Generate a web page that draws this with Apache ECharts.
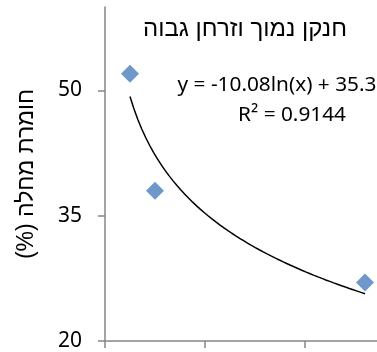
<!DOCTYPE html>
<html><head><meta charset="utf-8">
<script src="https://cdn.jsdelivr.net/npm/echarts@6/dist/echarts.min.js"></script>
<style>html,body{margin:0;padding:0;background:#fff}#c{width:377px;height:352px}</style>
</head><body><div id="c"></div>
<script>
const xValues = [0.25, 0.5, 2.6];
const yValues = [52, 38, 27];
const yTicks = [20, 35, 50];
const xTicks = [0, 1, 2];
const trendA = -10.08, trendB = 35.3;
const titleText = 'חנקן נמוך וזרחן גבוה';
const yName = 'חומרת מחלה (%)';
const eqText = 'y = -10.08ln(x) + 35.3';
const r2Text = 'R² = 0.9144';

const pts = xValues.map((x, i) => [x, yValues[i]]);
const trend = [];
const n = 60;
const x0 = Math.min(...xValues), x1 = Math.max(...xValues);
for (let i = 0; i <= n; i++) {
  const x = x0 + (x1 - x0) * i / n;
  trend.push([x, trendA * Math.log(x) + trendB]);
}
const font = '"Noto Sans", sans-serif';
const heb = '"Liberation Sans", sans-serif';
const rtl = s => '\u202B' + s + '\u202C';
const chart = echarts.init(document.getElementById('c'));
chart.setOption({
  animation: false,
  textStyle: { fontFamily: font },
  title: [
    { text: rtl(titleText), left: 240, top: 12, textAlign: 'center',
      textStyle: { fontSize: 24, fontWeight: 'normal', color: '#000', fontFamily: heb } },
    { text: eqText, left: 272, top: 70, textAlign: 'center',
      textStyle: { fontSize: 20.8, fontWeight: 'normal', color: '#000', fontFamily: font } },
    { text: r2Text, left: 287, top: 100, textAlign: 'center',
      textStyle: { fontSize: 20.8, fontWeight: 'normal', color: '#000', fontFamily: font } }
  ],
  grid: { left: 105, right: 0, top: 7, bottom: 11, containLabel: false },
  xAxis: {
    type: 'value', min: 0, max: 2.72, interval: 1,
    axisLine: { show: true, lineStyle: { color: '#868686', width: 1.5 } },
    axisTick: { show: true, length: 7, lineStyle: { color: '#868686', width: 1.5 }, customValues: xTicks },
    axisLabel: { show: false },
    splitLine: { show: false }
  },
  yAxis: {
    type: 'value', min: 20, max: 60, interval: 15,
    name: rtl(yName), nameLocation: 'middle', nameGap: 67, nameRotate: 90,
    nameTextStyle: { fontSize: 23, color: '#000', fontFamily: heb },
    axisLine: { show: true, onZero: false, lineStyle: { color: '#868686', width: 1.5 } },
    axisTick: { show: true, length: 7, lineStyle: { color: '#868686', width: 1.5 }, customValues: yTicks },
    axisLabel: { fontSize: 21, color: '#000', margin: 23, customValues: yTicks },
    splitLine: { show: false }
  },
  series: [
    { type: 'line', data: trend, showSymbol: false, symbol: 'none', smooth: false,
      lineStyle: { color: '#000', width: 1.5 }, z: 2, silent: true },
    { type: 'scatter', data: pts, symbol: 'diamond', symbolSize: 18,
      itemStyle: { color: '#4a7ebb' }, z: 3 }
  ]
});
</script></body></html>
